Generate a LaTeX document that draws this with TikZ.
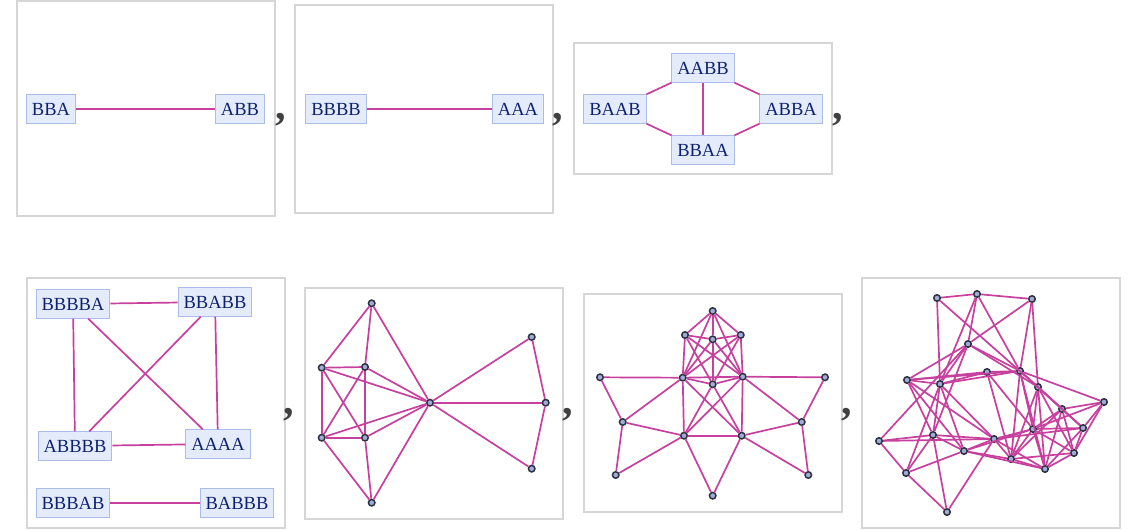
\documentclass[tikz,border=0pt]{standalone}
\usepackage{fontspec}
\setmainfont{Liberation Serif}
\usepackage{tikz}

\definecolor{labtext}{RGB}{14,34,112}
\definecolor{labfill}{RGB}{228,235,250}
\definecolor{labline}{RGB}{172,188,232}
\definecolor{edgecol}{RGB}{200,64,158}
\definecolor{vfill}{RGB}{160,172,215}
\definecolor{vline}{RGB}{45,50,65}
\definecolor{framecol}{RGB}{214,214,214}
\definecolor{commacol}{RGB}{64,64,64}

\begin{document}
\begin{tikzpicture}[x=1pt,y=-1pt,
    lab/.style={rectangle, draw=labline, fill=labfill, text=labtext, line width=1pt,
      font=\fontsize{18.5}{20}\selectfont, inner xsep=5.5pt, inner ysep=8pt,
      text height=12.3pt, text depth=0pt},
    vert/.style={circle, draw=vline, fill=vfill, line width=1.5pt, inner sep=0pt, minimum size=6.5pt},
    frame/.style={draw=framecol, line width=2pt},
    link/.style={draw=edgecol, line width=1.7pt},
    sep/.style={text=commacol, font=\fontsize{42}{42}\bfseries\selectfont, anchor=base, inner sep=0pt}]
  \useasboundingbox (0,0) rectangle (1138,530);

  \draw[frame] (17,1) rectangle (275,216);
  \draw[frame] (295,5) rectangle (553,213);
  \draw[frame] (574,43) rectangle (832,174);
  \draw[frame] (27,278) rectangle (285,528);
  \draw[frame] (305,288) rectangle (563,519);
  \draw[frame] (584,294) rectangle (842,512);
  \draw[frame] (862,278) rectangle (1120,528);

  \node[sep] (s1) at (281,119) {,};
  \node[sep] (s2) at (558,119) {,};
  \node[sep] (s3) at (838,119) {,};
  \node[sep] (s4) at (289,414) {,};
  \node[sep] (s5) at (568,414) {,};
  \node[sep] (s6) at (847,414) {,};

  \node[lab] (bba) at (51,109) {BBA};
  \node[lab] (abb) at (240,109) {ABB};
  \draw[link] (bba) -- (abb);

  \node[lab] (bbbb) at (336,109) {BBBB};
  \node[lab] (aaa) at (518,109) {AAA};
  \draw[link] (bbbb) -- (aaa);

  \node[lab] (baab) at (615,109) {BAAB};
  \node[lab] (aabb) at (703,68) {AABB};
  \node[lab] (abba) at (791,109) {ABBA};
  \node[lab] (bbaa) at (703,150) {BBAA};
  \foreach \a/\b in {baab/aabb, aabb/abba, baab/bbaa, bbaa/abba, aabb/bbaa}
    \draw[link] (\a) -- (\b);

  \node[lab] (bbbba) at (73,304) {BBBBA};
  \node[lab] (bbabb) at (215,302) {BBABB};
  \node[lab] (abbbb) at (75,446) {ABBBB};
  \node[lab] (aaaa) at (218,444) {AAAA};
  \node[lab] (bbbab) at (73,503) {BBBAB};
  \node[lab] (babbb) at (237,503) {BABBB};
  \foreach \a/\b in {bbbba/bbabb, bbbba/abbbb, bbbba/aaaa, bbabb/abbbb, bbabb/aaaa,
      abbbb/aaaa, bbbab/babbb}
    \draw[link] (\a) -- (\b);

  \node[vert] (u1) at (371.7,303.3) {};
  \node[vert] (u2) at (321.7,367.7) {};
  \node[vert] (u3) at (365,367) {};
  \node[vert] (u4) at (321.7,437.7) {};
  \node[vert] (u5) at (365,437.7) {};
  \node[vert] (u6) at (371.7,502.7) {};
  \node[vert] (u7) at (430,402.7) {};
  \node[vert] (u8) at (531.7,337) {};
  \node[vert] (u9) at (545.7,402.7) {};
  \node[vert] (u10) at (531.7,468.7) {};
  \foreach \a/\b in {u1/u2, u1/u3, u1/u7, u2/u3, u2/u4, u2/u5, u2/u7, u3/u4, u3/u5, u3/u7,
      u4/u5, u4/u6, u4/u7, u5/u6, u5/u7, u6/u7, u7/u8, u7/u9, u7/u10, u8/u9, u9/u10}
    \draw[link] (\a) -- (\b);

  \node[vert] (v1) at (712.7,311) {};
  \node[vert] (v2) at (685,335) {};
  \node[vert] (v3) at (712.7,339.3) {};
  \node[vert] (v4) at (740.7,335) {};
  \node[vert] (v5) at (600,377.3) {};
  \node[vert] (v6) at (682.7,377.7) {};
  \node[vert] (v7) at (712.7,384.3) {};
  \node[vert] (v8) at (742.7,376.7) {};
  \node[vert] (v9) at (825,377.3) {};
  \node[vert] (v10) at (622.7,422) {};
  \node[vert] (v11) at (684,435.7) {};
  \node[vert] (v12) at (741.7,435.7) {};
  \node[vert] (v13) at (801.7,422) {};
  \node[vert] (v14) at (615.7,475) {};
  \node[vert] (v15) at (712.7,495.7) {};
  \node[vert] (v16) at (808.3,475) {};
  \foreach \a/\b in {v1/v2, v1/v3, v1/v4, v1/v6, v1/v8, v2/v3, v3/v4, v2/v6, v2/v7, v2/v8,
      v4/v8, v4/v7, v4/v6, v3/v6, v3/v8, v3/v7, v5/v6, v6/v7, v7/v8, v6/v8, v8/v9,
      v5/v10, v6/v10, v10/v11, v10/v14, v11/v14, v6/v11, v6/v12, v7/v11, v7/v12,
      v8/v11, v8/v12, v11/v12, v11/v15, v12/v15, v12/v13, v12/v16, v8/v13, v9/v13, v13/v16}
    \draw[link] (\a) -- (\b);

  \node[vert] (w1) at (937,298) {};
  \node[vert] (w2) at (977,294) {};
  \node[vert] (w3) at (1032,299) {};
  \node[vert] (w4) at (968,344) {};
  \node[vert] (w5) at (987,372) {};
  \node[vert] (w6) at (1020,371) {};
  \node[vert] (w7) at (907,380) {};
  \node[vert] (w8) at (940,384) {};
  \node[vert] (w9) at (1038,387) {};
  \node[vert] (w10) at (1104,402) {};
  \node[vert] (w11) at (1062,409) {};
  \node[vert] (w12) at (1083,428) {};
  \node[vert] (w13) at (1033,429) {};
  \node[vert] (w14) at (933,435) {};
  \node[vert] (w15) at (994,439) {};
  \node[vert] (w16) at (879,441) {};
  \node[vert] (w17) at (964,451) {};
  \node[vert] (w18) at (1074,453) {};
  \node[vert] (w19) at (1011,459) {};
  \node[vert] (w20) at (1045,469) {};
  \node[vert] (w21) at (906,473) {};
  \node[vert] (w22) at (947,512) {};
  \foreach \a/\b in {w1/w2, w2/w3, w1/w8, w1/w9, w2/w4, w2/w8, w2/w6, w3/w4, w3/w6, w3/w9,
      w4/w6, w4/w9, w4/w7, w4/w8, w4/w14, w4/w16,
      w7/w8, w7/w5, w7/w6, w7/w17, w7/w14, w7/w15,
      w8/w5, w8/w6, w8/w14, w8/w17, w8/w15, w8/w21,
      w5/w6, w5/w13, w5/w19,
      w6/w9, w6/w13, w6/w19, w6/w20, w6/w11, w6/w10, w6/w12,
      w9/w11, w9/w12, w9/w13, w9/w20, w9/w18, w9/w19,
      w10/w11, w10/w12, w10/w18, w10/w13,
      w11/w12, w11/w13, w11/w19, w11/w20, w11/w18,
      w12/w13, w12/w18, w12/w15, w12/w20,
      w13/w15, w13/w19, w13/w20, w13/w18, w13/w17,
      w14/w16, w14/w15, w14/w17, w14/w22, w14/w21,
      w15/w17, w15/w19, w15/w20, w15/w22,
      w16/w21, w16/w15,
      w17/w19, w17/w21, w17/w20,
      w18/w19, w18/w20, w19/w20, w21/w22}
    \draw[link] (\a) -- (\b);
\end{tikzpicture}
\end{document}
